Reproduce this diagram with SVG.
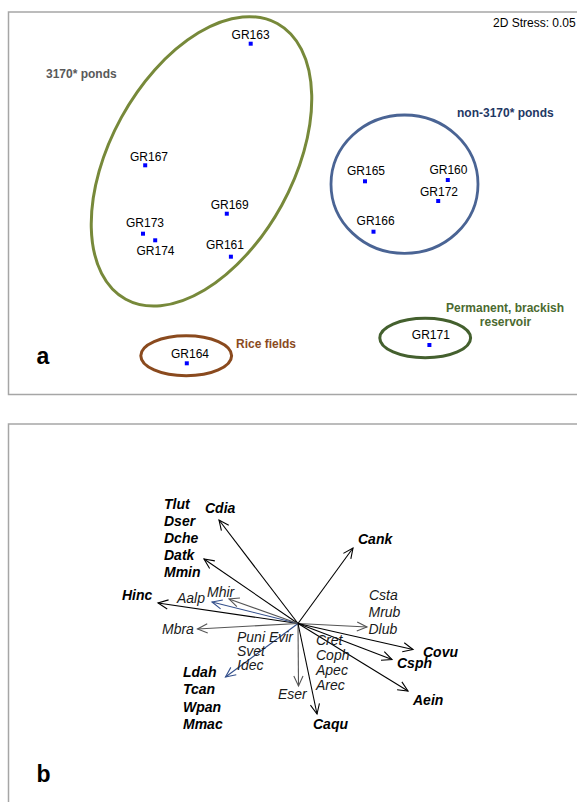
<svg xmlns="http://www.w3.org/2000/svg" width="577" height="802" viewBox="0 0 577 802">
<style>
text{font-family:"Liberation Sans",Arial,sans-serif}
.gr{font-size:12px;fill:#000}
.pt{fill:#0000ff}
.grp{font-size:12px;font-weight:bold}
.bi{font-size:14px;font-weight:bold;font-style:italic;fill:#000}
.it{font-size:14px;font-style:italic;fill:#1a1a1a}
.panel{fill:#fff;stroke:#a6a6a6;stroke-width:1.5}
.vk{stroke:#000;stroke-width:1.1;fill:none;marker-end:url(#ak)}
.vg{stroke:#555;stroke-width:1.1;fill:none;marker-end:url(#ag)}
.vb{stroke:#34508c;stroke-width:1.1;fill:none;marker-end:url(#ab)}
</style>
<defs>
<marker id="ak" viewBox="-11 -6 13 12" refX="0" refY="0" markerWidth="13" markerHeight="12" markerUnits="userSpaceOnUse" orient="auto"><path d="M-10,-4.6 L0,0 L-10,4.6" fill="none" stroke="#000" stroke-width="1.1"/></marker>
<marker id="ag" viewBox="-11 -6 13 12" refX="0" refY="0" markerWidth="13" markerHeight="12" markerUnits="userSpaceOnUse" orient="auto"><path d="M-10,-4.6 L0,0 L-10,4.6" fill="none" stroke="#555" stroke-width="1.1"/></marker>
<marker id="ab" viewBox="-11 -6 13 12" refX="0" refY="0" markerWidth="13" markerHeight="12" markerUnits="userSpaceOnUse" orient="auto"><path d="M-10,-4.6 L0,0 L-10,4.6" fill="none" stroke="#34508c" stroke-width="1.1"/></marker>
</defs>
<rect width="577" height="802" fill="#fff"/>

<!-- Panel a -->
<g id="panel-a">
<rect class="panel" x="8.5" y="12" width="600" height="382.5"/>
<text class="gr" x="493" y="27">2D Stress: 0.05</text>
<text x="36.5" y="364" style="font-size:23px;font-weight:bold">a</text>
</g>

<g id="group-3170">
<ellipse cx="201.5" cy="161.4" rx="157.3" ry="91.4" transform="rotate(-61.2 201.5 161.4)" fill="none" stroke="#77893a" stroke-width="3"/>
<text class="grp" x="46" y="78.3" fill="#595959">3170* ponds</text>
</g>
<g id="group-non3170">
<ellipse cx="404.5" cy="184.2" rx="73.5" ry="69.2" fill="none" stroke="#4a6494" stroke-width="2.8"/>
<text class="grp" x="457" y="117.3" fill="#1f3864">non-3170* ponds</text>
</g>
<g id="group-rice">
<ellipse cx="186.2" cy="355.7" rx="45.4" ry="20" fill="none" stroke="#8a4a1e" stroke-width="3"/>
<text class="grp" x="236" y="348.3" fill="#8a4a1e">Rice fields</text>
</g>
<g id="group-reservoir">
<ellipse cx="425.2" cy="338" rx="45.4" ry="19.7" fill="none" stroke="#44602e" stroke-width="3"/>
<text class="grp" x="446" y="311.7" fill="#4b6a30">Permanent, brackish</text>
<text class="grp" x="479.8" y="326" fill="#4b6a30">reservoir</text>
</g>

<g id="GR163"><rect class="pt" x="248.7" y="41.7" width="4" height="4"/><text class="gr" x="231.6" y="39.3">GR163</text></g>
<g id="GR167"><rect class="pt" x="143.2" y="163.3" width="4" height="4"/><text class="gr" x="130" y="161">GR167</text></g>
<g id="GR165"><rect class="pt" x="363" y="179.3" width="4" height="4"/><text class="gr" x="347" y="175">GR165</text></g>
<g id="GR160"><rect class="pt" x="445.8" y="178" width="4" height="4"/><text class="gr" x="429.4" y="174">GR160</text></g>
<g id="GR172"><rect class="pt" x="436.2" y="199" width="4" height="4"/><text class="gr" x="420" y="196">GR172</text></g>
<g id="GR169"><rect class="pt" x="224.8" y="211.7" width="4" height="4"/><text class="gr" x="210.7" y="209">GR169</text></g>
<g id="GR173"><rect class="pt" x="141" y="231.7" width="4" height="4"/><text class="gr" x="126" y="227">GR173</text></g>
<g id="GR174"><rect class="pt" x="153.2" y="238.3" width="4" height="4"/><text class="gr" x="136.5" y="255">GR174</text></g>
<g id="GR161"><rect class="pt" x="228.9" y="254.7" width="4" height="4"/><text class="gr" x="205.9" y="248.7">GR161</text></g>
<g id="GR166"><rect class="pt" x="371.5" y="229.7" width="4" height="4"/><text class="gr" x="356.6" y="225.3">GR166</text></g>
<g id="GR164"><rect class="pt" x="184.8" y="361.3" width="4" height="4"/><text class="gr" x="171" y="358.3">GR164</text></g>
<g id="GR171"><rect class="pt" x="427.4" y="343" width="4" height="4"/><text class="gr" x="411.8" y="339">GR171</text></g>

<!-- Panel b -->
<g id="panel-b">
<rect class="panel" x="8.5" y="424" width="600" height="400"/>
<text x="36.5" y="782" style="font-size:23px;font-weight:bold">b</text>
</g>

<g id="connectors">
<line class="vk" x1="298" y1="623.5" x2="219" y2="520"/>
<line class="vk" x1="298" y1="623.5" x2="204" y2="559"/>
<line class="vk" x1="298" y1="623.5" x2="158" y2="603"/>
<line class="vb" x1="298" y1="623.5" x2="212" y2="602"/>
<line class="vg" x1="298" y1="623.5" x2="229" y2="599"/>
<line class="vg" x1="298" y1="623.5" x2="197.5" y2="629"/>
<line class="vb" x1="298" y1="623.5" x2="225.5" y2="677"/>
<line class="vg" x1="298" y1="623.5" x2="298.5" y2="686"/>
<line class="vk" x1="298" y1="623.5" x2="317" y2="714"/>
<line class="vk" x1="298" y1="623.5" x2="353" y2="548"/>
<line class="vg" x1="298" y1="623.5" x2="367" y2="627"/>
<line class="vk" x1="298" y1="623.5" x2="413" y2="649.5"/>
<line class="vk" x1="298" y1="623.5" x2="392" y2="659.5"/>
<line class="vk" x1="298" y1="623.5" x2="408" y2="691"/>
</g>

<g id="Cdia"><text class="bi" x="205" y="513">Cdia</text></g>
<g id="Tlut-group">
<text class="bi" x="164" y="509">Tlut</text>
<text class="bi" x="164" y="526">Dser</text>
<text class="bi" x="164" y="543">Dche</text>
<text class="bi" x="164" y="560">Datk</text>
<text class="bi" x="164" y="577">Mmin</text>
</g>
<g id="Hinc"><text class="bi" x="122" y="600">Hinc</text></g>
<g id="Aalp"><text class="it" x="177" y="603">Aalp</text></g>
<g id="Mhir"><text class="it" x="207" y="597">Mhir</text></g>
<g id="Mbra"><text class="it" x="162" y="634">Mbra</text></g>
<g id="Puni-group">
<text class="it" x="237" y="641.5">Puni Evir</text>
<text class="it" x="237" y="655.5">Svet</text>
<text class="it" x="237" y="670">Idec</text>
</g>
<g id="Ldah-group">
<text class="bi" x="183" y="677">Ldah</text>
<text class="bi" x="183" y="694">Tcan</text>
<text class="bi" x="183" y="712">Wpan</text>
<text class="bi" x="183" y="729">Mmac</text>
</g>
<g id="Eser"><text class="it" x="278" y="699">Eser</text></g>
<g id="Caqu"><text class="bi" x="313" y="729">Caqu</text></g>
<g id="Cret-group">
<text class="it" x="316" y="645">Cret</text>
<text class="it" x="316" y="660">Coph</text>
<text class="it" x="316" y="675">Apec</text>
<text class="it" x="316" y="690">Arec</text>
</g>
<g id="Cank"><text class="bi" x="358" y="544">Cank</text></g>
<g id="Csta-group">
<text class="it" x="369" y="600">Csta</text>
<text class="it" x="368.5" y="617">Mrub</text>
<text class="it" x="368.5" y="634">Dlub</text>
</g>
<g id="Covu"><text class="bi" x="423" y="657">Covu</text></g>
<g id="Csph"><text class="bi" x="397" y="668">Csph</text></g>
<g id="Aein"><text class="bi" x="413" y="705">Aein</text></g>
</svg>
